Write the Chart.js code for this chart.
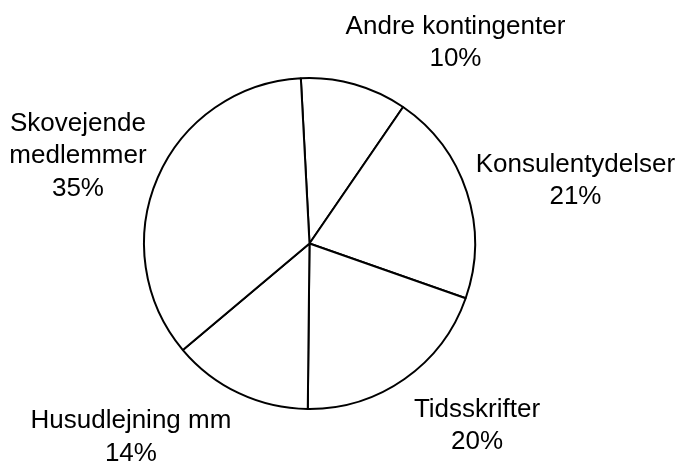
<!DOCTYPE html>
<html>
<head>
<meta charset="utf-8">
<script src="https://cdn.jsdelivr.net/npm/chart.js@4"></script>
<style>
  html, body { margin: 0; padding: 0; background: #fff; }
  #wrap { width: 680px; height: 463px; }
</style>
</head>
<body>
<div id="wrap"><canvas id="pieChart"></canvas></div>
<script>
// data (share of total, %)
const categories = [
    ['Andre kontingenter'],
    ['Konsulentydelser'],
    ['Tidsskrifter'],
    ['Husudlejning mm'],
    ['Skovejende', 'medlemmer']
];
const shares = [10.4, 20.8, 19.8, 13.7, 35.3];

// where each label block sits, in pie radii from the centre (x, first baseline)
const labelOffsets = [
    [0.882, -1.266],
    [1.607, -0.434],
    [1.012, 1.047],
    [-1.079, 1.115],
    [-1.399, -0.682]
];

const labelPlugin = {
    id: 'outsideLabels',
    afterDraw(chart) {
        const ctx = chart.ctx;
        const meta = chart.getDatasetMeta(0);
        const total = shares.reduce((a, b) => a + b, 0);
        ctx.save();
        ctx.font = '26px "Liberation Sans", Arial, sans-serif';
        ctx.fillStyle = '#000';
        ctx.textAlign = 'center';
        ctx.textBaseline = 'alphabetic';
        meta.data.forEach((arc, i) => {
            const r = arc.outerRadius;
            const x = arc.x + labelOffsets[i][0] * r;
            let y = arc.y + labelOffsets[i][1] * r;
            const lines = categories[i].concat([Math.round(shares[i] / total * 100) + '%']);
            lines.forEach(line => {
                ctx.fillText(line, x, y);
                y += 32.5;
            });
        });
        ctx.restore();
    }
};

const ctx = document.getElementById('pieChart').getContext('2d');
const pieChart = new Chart(ctx, {
    type: 'pie',
    data: {
        labels: categories,
        datasets: [{
            data: shares,
            backgroundColor: '#ffffff',
            borderColor: '#000000',
            borderWidth: 2
        }]
    },
    options: {
        responsive: true,
        maintainAspectRatio: false,
        animation: false,
        rotation: -3,
        layout: {
            padding: { left: 143, right: 204, top: 77, bottom: 53 }
        },
        plugins: {
            legend: { display: false },
            tooltip: { enabled: false }
        }
    },
    plugins: [labelPlugin]
});
</script>
</body>
</html>
